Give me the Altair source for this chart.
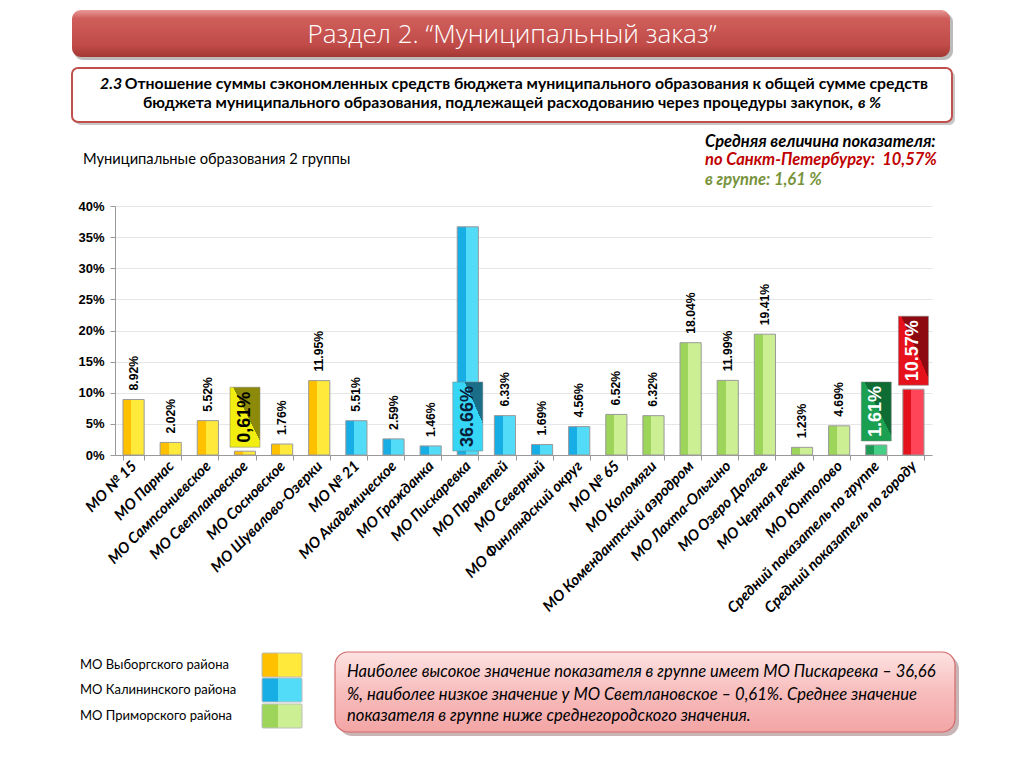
import altair as alt
import pandas as pd

# ---------------- data ----------------
categories = [
    "МО № 15", "МО Парнас", "МО Сампсониевское", "МО Светлановское", "МО Сосновское",
    "МО Шувалово-Озерки", "МО № 21", "МО Академическое", "МО Гражданка", "МО Пискаревка",
    "МО Прометей", "МО Северный", "МО Финляндский округ", "МО № 65", "МО Коломяги",
    "МО Комендантский аэродром", "МО Лахта-Ольгино", "МО Озеро Долгое", "МО Черная речка",
    "МО Юнтолово", "Средний показатель по группе", "Средний показатель по городу",
]
values = [8.92, 2.02, 5.52, 0.61, 1.76, 11.95, 5.51, 2.59, 1.46, 36.66, 6.33, 1.69,
          4.56, 6.52, 6.32, 18.04, 11.99, 19.41, 1.23, 4.69, 1.61, 10.57]
groups = (["vyb"] * 6) + (["kal"] * 7) + (["pri"] * 7) + ["grp", "city"]

boxed_cats = ["МО Светлановское", "МО Пискаревка",
              "Средний показатель по группе", "Средний показатель по городу"]
boxed_texts = ["0,61%", "36.66%", "1.61%", "10.57%"]

legend_names = ["МО Выборгского района", "МО Калининского района", "МО Приморского района"]

title_text = "Раздел 2. “Муниципальный заказ”"
sub_num = "2.3"
sub_line1 = "Отношение суммы сэкономленных средств бюджета муниципального образования к общей сумме средств"
sub_line2 = "бюджета муниципального образования, подлежащей расходованию через процедуры закупок,"
sub_unit = "в %"
group_caption = "Муниципальные образования 2 группы"
avg_head = "Средняя величина показателя:"
avg_city = "по Санкт-Петербургу:\u00a0 10,57%"
avg_group = "в группе: 1,61 %"
note_lines = [
    "Наиболее высокое значение показателя в группе имеет МО Пискаревка – 36,66",
    "%, наиболее низкое значение у МО Светлановское – 0,61%. Среднее значение",
    "показателя в группе ниже среднегородского значения.",
]

df = pd.DataFrame({"cat": categories, "value": values, "grp": groups})
df["box"] = ""
for c, t in zip(boxed_cats, boxed_texts):
    df.loc[df["cat"] == c, "box"] = t

one = pd.DataFrame({"k": [0]})

# ---------------- helpers ----------------
def hgrad(left, right, split=0.4):
    return alt.Gradient(
        gradient="linear",
        stops=[alt.GradientStop(color=left, offset=0), alt.GradientStop(color=left, offset=split),
               alt.GradientStop(color=right, offset=split), alt.GradientStop(color=right, offset=1)],
        x1=0, x2=1, y1=0, y2=0)

def dgrad(a, b, split=0.55):
    return alt.Gradient(
        gradient="linear",
        stops=[alt.GradientStop(color=a, offset=0), alt.GradientStop(color=a, offset=split),
               alt.GradientStop(color=b, offset=split), alt.GradientStop(color=b, offset=1)],
        x1=0, x2=1, y1=1, y2=0)

def vgrad(stops):
    return alt.Gradient(gradient="linear",
                        stops=[alt.GradientStop(color=c, offset=o) for o, c in stops],
                        x1=0, x2=0, y1=0, y2=1)

bar_fill = {
    "vyb": hgrad("#FFC000", "#FFEA3C"),
    "kal": hgrad("#17AEE6", "#52DCF8"),
    "pri": hgrad("#9CD55A", "#CBEF92"),
    "grp": hgrad("#1C9A55", "#45CF86"),
    "city": hgrad("#E4101C", "#FF4557"),
}

x_enc = alt.X("cat:N", sort=categories, title=None,
              scale=alt.Scale(paddingInner=0.43),
              axis=alt.Axis(labelAngle=-45, labelAlign="right", labelBaseline="middle",
                            labelFont="Lato", labelFontStyle="italic", labelFontWeight="bold",
                            labelFontSize=15, labelColor="#000", labelPadding=3,
                            tickBand="extent", tickSize=5, tickColor="#999",
                            domainColor="#999", grid=False, labelLimit=300))
y_enc = alt.Y("value:Q", title=None,
              scale=alt.Scale(domain=[0, 40], nice=False, zero=True),
              axis=alt.Axis(values=[0, 5, 10, 15, 20, 25, 30, 35, 40],
                            labelExpr="datum.value + '%'",
                            labelFont="Liberation Sans", labelFontWeight="bold",
                            labelFontSize=13, labelColor="#000", labelPadding=6,
                            tickSize=5, tickColor="#999", domainColor="#999",
                            grid=True, gridColor="#E6E6E6"))

base = alt.Chart(df)

layers = []
for g, fill in bar_fill.items():
    layers.append(
        base.transform_filter(alt.datum.grp == g)
        .mark_bar(fill=fill, stroke="#9A9A9A", strokeWidth=1)
        .encode(x=x_enc, y=y_enc)
    )

# ordinary value labels
layers.append(
    base.transform_filter(alt.datum.box == "")
    .transform_calculate(lbl="format(datum.value, '.2f') + '%'")
    .mark_text(angle=270, align="left", baseline="middle", yOffset=-9,
               font="Liberation Sans", fontWeight="bold", fontSize=12.2, color="#000")
    .encode(x=x_enc, y=y_enc, text="lbl:N")
)

# highlighted box labels
box_specs = [
    # cat, fill, text color, at base, bottom offset, height
    (boxed_cats[0], dgrad("#F2EE10", "#8C8A08"), "#000000", False, -4, 60),
    (boxed_cats[1], dgrad("#36D6F6", "#1A6E88", 0.7), "#0B2038", True, -4, 69),
    (boxed_cats[2], dgrad("#1BA052", "#0E6C35"), "#FFFFFF", False, -4, 59),
    (boxed_cats[3], dgrad("#E5121C", "#8C0A10"), "#FFFFFF", False, -4, 69),
]
for cat, fill, tcol, at_base, off, h in box_specs:
    b = base.transform_filter(alt.datum.cat == cat)
    if at_base:
        b = b.transform_calculate(value="0")
    layers.append(
        b.mark_bar(fill=fill, stroke="#7F7F7F", strokeWidth=0.5, width=30,
                   yOffset=off, y2Offset=off - h)
        .encode(x=x_enc, y=y_enc, y2="value:Q")
    )
    layers.append(
        b.mark_text(angle=270, align="center", baseline="middle", yOffset=off - h / 2,
                    font="Liberation Sans", fontWeight="bold", fontSize=18, color=tcol)
        .encode(x=x_enc, y=y_enc, text="box:N")
    )

# ---------------- decorations (pixel positions relative to plot origin) ----------------
def rect(x, x2, y, y2, fill, stroke=None, sw=0, r=0):
    kw = dict(fill=fill, cornerRadius=r)
    if stroke:
        kw.update(stroke=stroke, strokeWidth=sw)
    return alt.Chart(one).mark_rect(**kw).encode(
        x=alt.value(x), x2=alt.value(x2), y=alt.value(y), y2=alt.value(y2))

def txt(s, x, y, size, color="#000", weight="normal", style="normal", align="left", font="Lato"):
    return alt.Chart(one).mark_text(
        text=s, align=align, baseline="middle", fontSize=size, color=color,
        fontWeight=weight, fontStyle=style, font=font
    ).encode(x=alt.value(x), y=alt.value(y))

deco = []
# title banner
deco.append(rect(-41, 838, -193, -146, "#BBBBBB", r=9))
deco.append(rect(-43, 835, -196, -149,
                 vgrad([(0, "#E89A98"), (0.18, "#CF5E5B"), (0.75, "#C04B48"), (1, "#A33733")]),
                 r=9))
deco.append(txt(title_text, 397, -171, 26, color="#FFFFFF", align="center",
                font="Open Sans", weight=300))
# subtitle box
deco.append(rect(-40, 840, -135, -81, "#C8C8C8", r=6))
deco.append(rect(-43, 837, -138, -84, "#FFFFFF", stroke="#C0504D", sw=2, r=6))
deco.append(txt(sub_num, -15, -122, 15.8, weight="bold", style="italic"))
deco.append(txt(sub_line1, 813, -122, 15.8, weight="bold", align="right"))
deco.append(txt(sub_line2, 738, -103, 15.8, weight="bold", align="right"))
deco.append(txt(sub_unit, 743, -103, 15.8, weight="bold", style="italic"))
# captions
deco.append(txt(group_caption, -32, -46, 14.7))
deco.append(txt(avg_head, 590, -64, 16.5, weight="bold", style="italic"))
deco.append(txt(avg_city, 590, -46, 16.5, color="#C00000", weight="bold", style="italic"))
deco.append(txt(avg_group, 590, -26, 16.5, color="#77933C", weight="bold", style="italic"))
# legend
leg_y = [459, 484, 510]
leg_fill = [bar_fill["vyb"], bar_fill["kal"], bar_fill["pri"]]
for name, yy, f in zip(legend_names, leg_y, leg_fill):
    deco.append(txt(name, -35, yy, 13))
    deco.append(rect(147, 187, yy - 12, yy + 12, f, stroke="#BDBDBD", sw=1, r=1))
# note box
deco.append(rect(224, 844, 450, 530, "#C9B5B5", r=13))
deco.append(rect(220, 840, 446, 526,
                 vgrad([(0, "#FDE2E2"), (0.5, "#F8BDBD"), (1, "#F3A5A5")]),
                 stroke="#D46A6A", sw=1.2, r=13))
for line, yy in zip(note_lines, [466, 489, 510]):
    deco.append(txt(line, 232, yy, 16.6, style="italic"))

chart = alt.layer(*deco, *layers).properties(
    width=817, height=249,
    autosize=alt.AutoSizeParams(type="none"),
    padding={"left": 107, "top": 198, "right": 80, "bottom": 300},
    background="#FFFFFF",
).configure_view(stroke=None)

chart.save("out.html", embed_options={"renderer": "svg", "actions": False})
